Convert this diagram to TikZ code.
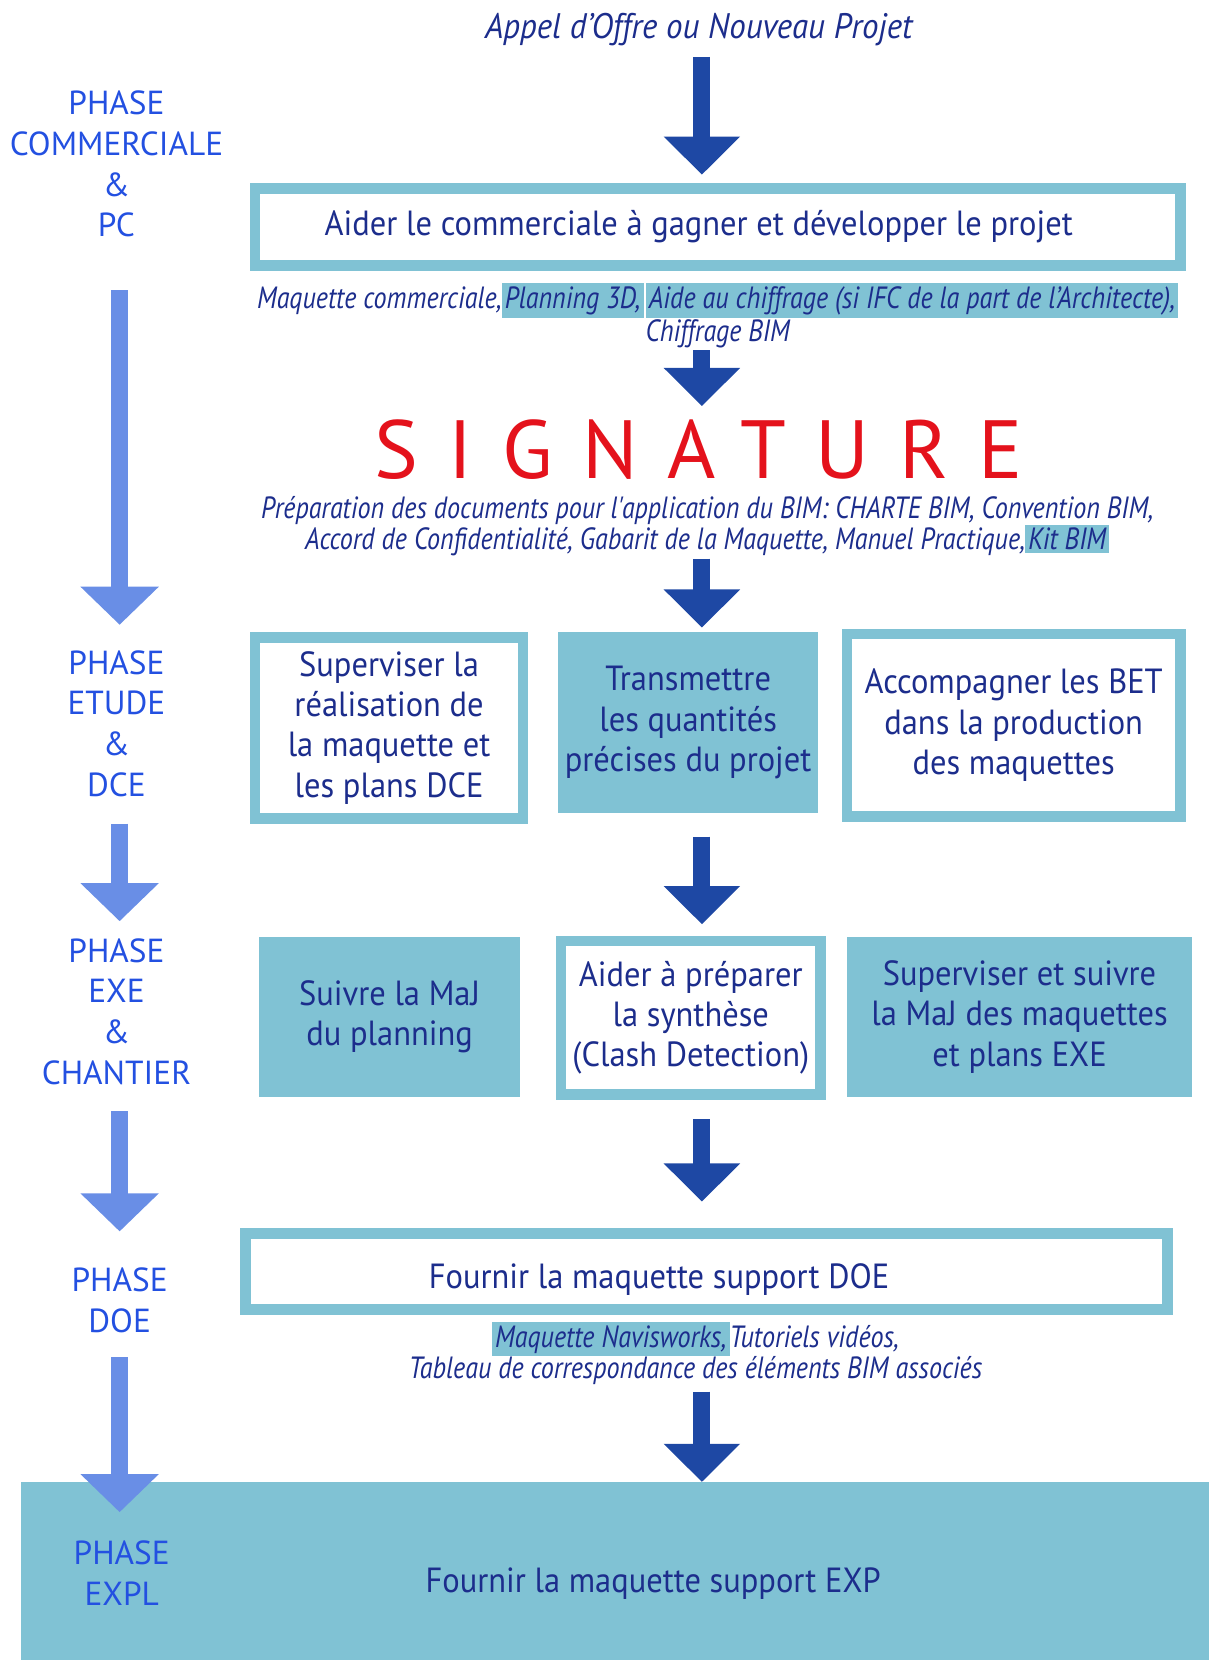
\documentclass[tikz,border=0pt]{standalone}
\usepackage{fontspec}
\setmainfont{PT Sans}
\newfontfamily\boxfam{PT Sans}[FakeStretch=0.93]
\newfontfamily\notefam{PT Sans}[FakeStretch=0.85]
\newfontfamily\sigfam{PT Sans}[LetterSpace=36]
\usepackage{tikz}
\usetikzlibrary{arrows.meta,positioning}

\definecolor{bimteal}{RGB}{128,194,212}
\definecolor{bimnavy}{RGB}{28,45,140}
\definecolor{arrowblue}{RGB}{30,72,164}
\definecolor{phaseblue}{RGB}{35,80,225}
\definecolor{lightarrow}{RGB}{105,142,230}
\definecolor{sigred}{RGB}{228,18,28}

\newcommand{\boxfont}{\boxfam\fontsize{33}{38}\selectfont}
\newcommand{\phasefont}{\fontsize{31.5}{38.5}\selectfont}
\newcommand{\bimhl}[1]{\colorbox{bimteal}{#1}}
\setlength{\fboxsep}{3pt}

\begin{document}
\begin{tikzpicture}[
			x=1pt, y=-1pt,
			whitebox/.style={draw=bimteal, line width=10pt, fill=white, inner sep=0pt, align=center, text=bimnavy, font=\boxfont},
			tealbox/.style={fill=bimteal, inner sep=0pt, align=center, text=bimnavy, font=\boxfont},
			boxlabel/.style={text=bimnavy, font=\boxfont, inner sep=0pt},
			phase/.style={text=phaseblue, align=center, inner sep=0pt, font=\phasefont},
			note/.style={text=bimnavy, align=center, inner sep=0pt, font=\notefam\itshape\fontsize{29}{30}\selectfont},
			darrow/.style={draw=arrowblue, line width=16pt, -{Triangle[length=36pt,width=70pt]}},
			larrow/.style={draw=lightarrow, line width=16pt, -{Triangle[length=36pt,width=72pt]}}
			]
			\useasboundingbox (0,0) rectangle (1142,1568);

			% Les axes des fleches
			\coordinate (spine) at (663,0);
			\coordinate (lspine) at (113,0);

			% Le fil principal
			\node[note, font=\boxfam\itshape\fontsize{33.5}{36}\selectfont] (title) at (660,28) {Appel d’Offre ou Nouveau Projet};
			\node[whitebox, minimum width=874pt, minimum height=73pt,
				label={[boxlabel, xshift=-18pt]center:Aider le commerciale à gagner et développer le projet}] (box1) at (678,214.5) {};
			\node[note] (note1) at (678,298) {Maquette commerciale,\bimhl{Planning 3D,}\hspace{2pt}\bimhl{Aide au chiffrage (si IFC de la part de l’Architecte),}\\Chiffrage BIM};
			\node[inner sep=0pt, text=sigred, font=\sigfam\fontsize{78}{80}\selectfont] (sig) at (660,425) {SIGNATURE};
			\node[note] (note2) at (668,497) {Préparation des documents pour l'application du BIM: CHARTE BIM, Convention BIM,\\Accord de Confidentialité, Gabarit de la Maquette, Manuel Practique,\bimhl{Kit BIM}};

			% Etude
			\node[whitebox, minimum width=253pt, minimum height=171pt] (b1) at (367.5,687.5) {Superviser la\\réalisation de\\la maquette et\\les plans DCE};
			\node[tealbox, minimum width=246pt, minimum height=171pt] (b2) at (650,682.5) {Transmettre\\les quantités\\précises du projet};
			\node[whitebox, minimum width=315pt, minimum height=172pt] (b3) at (957.5,685) {Accompagner les BET\\dans la production\\des maquettes};

			% Exe
			\node[tealbox, minimum width=246pt, minimum height=151pt] (c1) at (368,960.5) {Suivre la MaJ\\du planning};
			\node[whitebox, minimum width=245pt, minimum height=145pt] (c2) at (652.5,961.5) {Aider à préparer\\la synthèse\\(Clash Detection)};
			\node[tealbox, minimum width=326pt, minimum height=151pt] (c3) at (963,960.5) {Superviser et suivre\\la MaJ des maquettes\\et plans EXE};

			% DOE et EXP
			\node[whitebox, minimum width=871pt, minimum height=72pt,
				label={[boxlabel, xshift=-45pt, yshift=-8pt]center:Fournir la maquette support DOE}] (doe) at (667.5,1201) {};
			\node[note] (note3) at (657,1278.5) {\bimhl{Maquette Navisworks,}Tutoriels vidéos,\\Tableau de correspondance des éléments BIM associés};
			\node[tealbox, minimum width=1122pt, minimum height=168pt,
				label={[boxlabel, xshift=36pt, yshift=-12pt]center:Fournir la maquette support EXP}] (expl) at (581,1484) {};

			% Les phases
			\node[phase] (ph1) at (110,155) {PHASE\\COMMERCIALE\\\&\\PC};
			\node[phase] (ph2) at (110,683.5) {PHASE\\ETUDE\\\&\\DCE};
			\node[phase] (ph3) at (110,955.5) {PHASE\\EXE\\\&\\CHANTIER};
			\node[phase] (ph4) at (113,1228) {PHASE\\DOE};
			\node[phase] (ph5) at (115,1486) {PHASE\\EXPL};

			% Les fleches
			\draw[darrow, shorten <=10pt, shorten >=8pt] (spine |- title.south) -- (spine |- box1.north);
			\draw[darrow, shorten <=2pt, shorten >=13pt] (spine |- note1.south) -- (spine |- sig.north);
			\draw[darrow, shorten <=2pt, shorten >=4pt] (spine |- note2.south) -- (spine |- b2.north);
			\draw[darrow, shorten <=22pt, shorten >=11pt] (spine |- b2.south) -- (spine |- c2.north);
			\draw[darrow, shorten <=18pt, shorten >=25pt] (spine |- c2.south) -- (spine |- doe.north);
			\draw[darrow, shorten <=6pt] (spine |- note3.south) -- (spine |- expl.north);

			\draw[larrow, shorten <=50pt, shorten >=24pt] (lspine |- ph1.south) -- (lspine |- ph2.north);
			\draw[larrow, shorten <=25pt, shorten >=16pt] (lspine |- ph2.south) -- (lspine |- ph3.north);
			\draw[larrow, shorten <=25pt, shorten >=34pt] (lspine |- ph3.south) -- (lspine |- ph4.north);
			\draw[larrow, shorten <=23pt, shorten >=27pt] (lspine |- ph4.south) -- (lspine |- ph5.north);
		\end{tikzpicture}
\end{document}
